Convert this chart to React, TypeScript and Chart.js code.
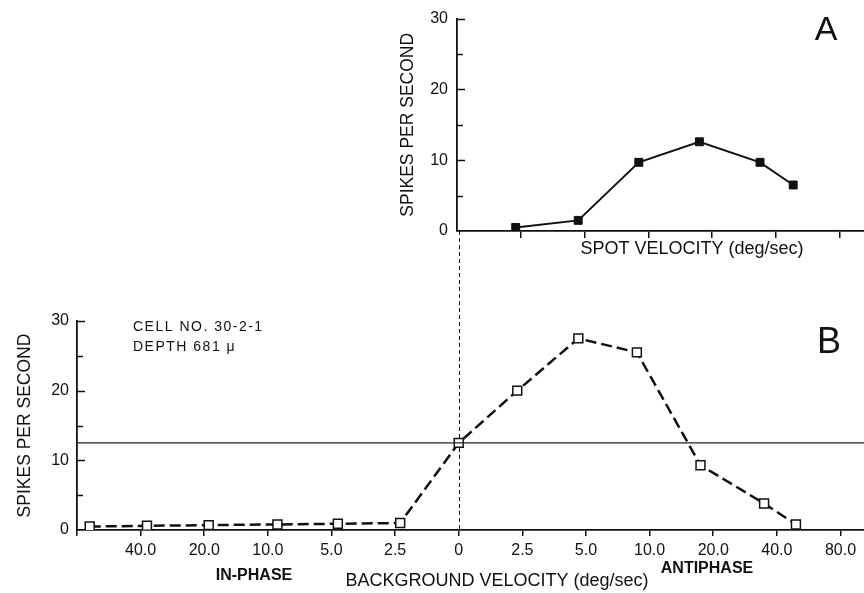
import React, { useEffect, useRef } from 'react';
import { Chart, registerables } from 'chart.js';

Chart.register(...registerables);

const FONT = "'Liberation Sans', Arial, sans-serif";
const INK = '#111111';

// Panel B: background velocity axis (positions are ordinal steps, labels below)
const bgTickValues = [-6, -5, -4, -3, -2, -1, 0, 1, 2, 3, 4, 5, 6];
const bgTickLabels = ['', '40.0', '20.0', '10.0', '5.0', '2.5', '0', '2.5', '5.0', '10.0', '20.0', '40.0', '80.0'];
const bgPositions = [-5.8, -4.9, -3.93, -2.85, -1.9, -0.92, 0, 0.92, 1.88, 2.8, 3.8, 4.8, 5.3];
const bgSpikes = [0.5, 0.6, 0.7, 0.8, 0.9, 1.0, 12.5, 20, 27.5, 25.5, 9.3, 3.8, 0.8];
const spontaneousRate = 12.5;

// Panel A: spot velocity
const spotTickValues = [1, 2, 3, 4, 5, 6];
const spotPositions = [0.92, 1.9, 2.85, 3.8, 4.75, 5.27];
const spotSpikes = [0.5, 1.5, 9.7, 12.6, 9.7, 6.5];

const yTickValues = [5, 10, 15, 20, 25, 30];

// canvas is a bit wider than the window so the axes run to the right edge
const CANVAS_W = 900;
const VIEW_W = 864;
const VIEW_H = 593;

type TextItem = { text: string; x: number; y: number; font: string; align?: CanvasTextAlign; spacing?: string };

function textPlugin(id: string, items: TextItem[]) {
  return {
    id,
    afterDraw(chart: any) {
      const ctx = chart.ctx as CanvasRenderingContext2D;
      ctx.save();
      ctx.fillStyle = INK;
      ctx.textBaseline = 'middle';
      for (const it of items) {
        ctx.font = it.font;
        ctx.textAlign = it.align || 'center';
        (ctx as any).letterSpacing = it.spacing || '0px';
        ctx.fillText(it.text, it.x, it.y);
      }
      (ctx as any).letterSpacing = '0px';
      ctx.restore();
    },
  };
}

const inwardTicks = {
  id: 'inwardTicks',
  afterDraw(chart: any) {
    const ctx = chart.ctx as CanvasRenderingContext2D;
    const y = chart.scales.y;
    const x0 = chart.chartArea.left;
    ctx.save();
    ctx.strokeStyle = INK;
    ctx.lineWidth = 1.5;
    for (const v of yTickValues) {
      const py = Math.round(y.getPixelForValue(v)) + 0.5;
      const len = v % 10 === 0 ? 8 : 6;
      ctx.beginPath();
      ctx.moveTo(x0, py);
      ctx.lineTo(x0 + len, py);
      ctx.stroke();
    }
    ctx.restore();
  },
};

export default function App() {
  const aRef = useRef<HTMLCanvasElement | null>(null);
  const bRef = useRef<HTMLCanvasElement | null>(null);

  useEffect(() => {
    if (!aRef.current || !bRef.current) return;
    const rightPad = CANVAS_W - VIEW_W;

    const chartA = new Chart(aRef.current, {
      type: 'line',
      data: {
        datasets: [
          {
            label: 'Spot velocity',
            data: spotPositions.map((x, i) => ({ x, y: spotSpikes[i] })),
            borderColor: INK,
            borderWidth: 2,
            pointStyle: 'rect',
            pointRadius: 5.6,
            pointBackgroundColor: INK,
            pointBorderColor: INK,
            pointBorderWidth: 1,
            tension: 0,
          },
        ],
      },
      options: {
        animation: false,
        responsive: false,
        events: [],
        layout: { padding: { left: 397, top: 15, right: rightPad, bottom: 342 } },
        plugins: { legend: { display: false }, tooltip: { enabled: false } },
        scales: {
          x: {
            type: 'linear',
            min: 0,
            max: 6.38,
            afterFit(s: any) { s.height = 20; },
            afterBuildTicks(s: any) { s.ticks = spotTickValues.map((v) => ({ value: v })); },
            ticks: { callback: () => '', autoSkip: false, maxRotation: 0 },
            grid: { display: true, drawOnChartArea: false, drawTicks: true, tickLength: 7, color: INK, lineWidth: 1.5 },
            border: { display: true, color: INK, width: 1.8 },
          },
          y: {
            min: 0,
            max: 30,
            afterFit(s: any) { s.width = 60; },
            ticks: {
              stepSize: 5,
              callback: (v: any) => (Number(v) % 10 === 0 ? String(v) : ''),
              font: { family: FONT, size: 16 },
              color: INK,
              padding: 9,
            },
            grid: { display: false, drawTicks: false },
            border: { display: true, color: INK, width: 1.8 },
            title: {
              display: true,
              text: 'SPIKES PER SECOND',
              font: { family: FONT, size: 17.5 },
              color: INK,
              padding: { top: 1, bottom: 0 },
            },
          },
        },
      },
      plugins: [
        inwardTicks,
        textPlugin('textA', [
          { text: 'A', x: 826, y: 31, font: `34px ${FONT}` },
          { text: 'SPOT VELOCITY (deg/sec)', x: 692, y: 249, font: `18px ${FONT}` },
        ]),
      ],
    });

    const zeroLine = {
      id: 'zeroLine',
      beforeDatasetsDraw(chart: any) {
        const ctx = chart.ctx as CanvasRenderingContext2D;
        const px = Math.round(chart.scales.x.getPixelForValue(0)) + 0.5;
        const bottom = chart.scales.y.getPixelForValue(0);
        const top = chartA.chartArea ? chartA.chartArea.bottom : 231;
        ctx.save();
        ctx.strokeStyle = INK;
        ctx.lineWidth = 1;
        ctx.setLineDash([4, 3]);
        ctx.beginPath();
        ctx.moveTo(px, top);
        ctx.lineTo(px, bottom);
        ctx.stroke();
        ctx.restore();
      },
    };

    const chartB = new Chart(bRef.current, {
      type: 'line',
      data: {
        datasets: [
          {
            label: 'Spontaneous rate',
            data: [
              { x: -6, y: spontaneousRate },
              { x: 6.37, y: spontaneousRate },
            ],
            borderColor: '#222222',
            borderWidth: 1.2,
            pointRadius: 0,
          },
          {
            label: 'Background velocity',
            data: bgPositions.map((x, i) => ({ x, y: bgSpikes[i] })),
            borderColor: INK,
            borderWidth: 2.5,
            borderDash: [11, 5],
            pointStyle: 'rect',
            pointRadius: 6.3,
            pointBackgroundColor: '#ffffff',
            pointBorderColor: INK,
            pointBorderWidth: 1.5,
            tension: 0,
          },
        ],
      },
      options: {
        animation: false,
        responsive: false,
        events: [],
        layout: { padding: { left: 0, top: 321, right: rightPad, bottom: 23 } },
        plugins: { legend: { display: false }, tooltip: { enabled: false } },
        scales: {
          x: {
            type: 'linear',
            min: -6,
            max: 6.37,
            afterFit(s: any) { s.height = 40; },
            afterBuildTicks(s: any) { s.ticks = bgTickValues.map((v) => ({ value: v })); },
            ticks: {
              callback: (v: any) => {
                const i = bgTickValues.indexOf(Number(v));
                return i >= 0 ? bgTickLabels[i] : '';
              },
              font: { family: FONT, size: 16 },
              color: INK,
              padding: 5,
              autoSkip: false,
              maxRotation: 0,
            },
            grid: { display: true, drawOnChartArea: false, drawTicks: true, tickLength: 6, color: INK, lineWidth: 1.5 },
            border: { display: true, color: INK, width: 1.8 },
          },
          y: {
            min: 0,
            max: 30,
            afterFit(s: any) { s.width = 77; },
            ticks: {
              stepSize: 5,
              callback: (v: any) => (Number(v) % 10 === 0 ? String(v) : ''),
              font: { family: FONT, size: 16 },
              color: INK,
              padding: 8,
            },
            grid: { display: false, drawTicks: false },
            border: { display: true, color: INK, width: 1.8 },
            title: {
              display: true,
              text: 'SPIKES PER SECOND',
              font: { family: FONT, size: 17.5 },
              color: INK,
              padding: { top: 15, bottom: 0 },
            },
          },
        },
      },
      plugins: [
        zeroLine,
        inwardTicks,
        textPlugin('textB', [
          { text: 'B', x: 829, y: 343, font: `36px ${FONT}` },
          { text: 'CELL NO. 30-2-1', x: 133, y: 327, font: `14px ${FONT}`, align: 'left', spacing: '1.5px' },
          { text: 'DEPTH 681 \u03BC', x: 133, y: 347, font: `14px ${FONT}`, align: 'left', spacing: '1.5px' },
          { text: 'IN-PHASE', x: 254, y: 576, font: `bold 16px ${FONT}` },
          { text: 'BACKGROUND VELOCITY (deg/sec)', x: 497, y: 581, font: `18px ${FONT}` },
          { text: 'ANTIPHASE', x: 707, y: 569, font: `bold 16px ${FONT}` },
        ]),
      ],
    });

    return () => {
      chartB.destroy();
      chartA.destroy();
    };
  }, []);

  return (
    <div style={{ position: 'fixed', left: 0, top: 0, width: VIEW_W, height: VIEW_H, background: '#ffffff', overflow: 'hidden' }}>
      <canvas ref={bRef} width={CANVAS_W} height={VIEW_H} style={{ position: 'absolute', left: 0, top: 0 }} />
      <canvas ref={aRef} width={CANVAS_W} height={VIEW_H} style={{ position: 'absolute', left: 0, top: 0 }} />
    </div>
  );
}
